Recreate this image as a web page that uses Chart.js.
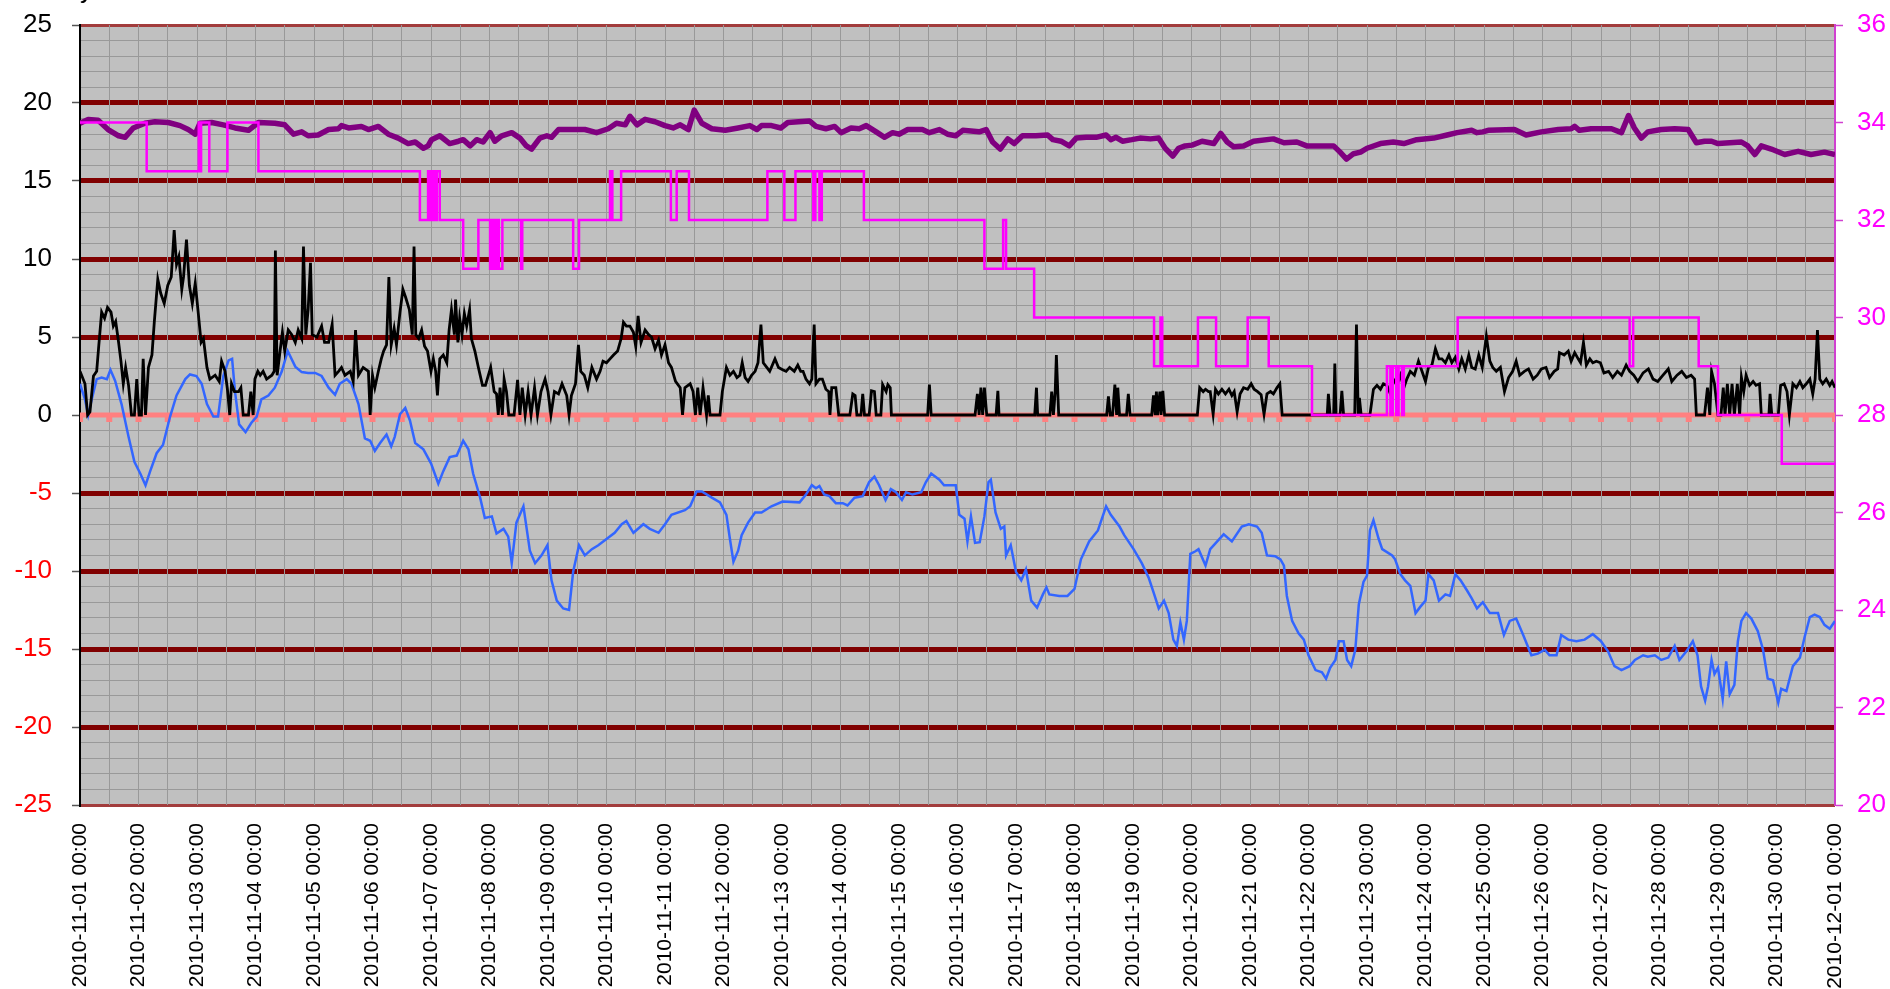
<!DOCTYPE html>
<html>
<head>
<meta charset="utf-8">
<title>Temperature log, November 2010</title>
<script src="https://cdn.jsdelivr.net/npm/chart.js@4.4.1/dist/chart.umd.min.js"></script>
<style>
  html, body { margin: 0; padding: 0; background: #ffffff; }
  canvas { display: block; }
</style>
</head>
<body>
<canvas id="chart" width="1890" height="989"></canvas>
<script>
// x values are days since 2010-11-01 00:00

const dayLabels = [
    "2010-11-01 00:00", "2010-11-02 00:00", "2010-11-03 00:00", "2010-11-04 00:00", "2010-11-05 00:00",
    "2010-11-06 00:00", "2010-11-07 00:00", "2010-11-08 00:00", "2010-11-09 00:00", "2010-11-10 00:00",
    "2010-11-11 00:00", "2010-11-12 00:00", "2010-11-13 00:00", "2010-11-14 00:00", "2010-11-15 00:00",
    "2010-11-16 00:00", "2010-11-17 00:00", "2010-11-18 00:00", "2010-11-19 00:00", "2010-11-20 00:00",
    "2010-11-21 00:00", "2010-11-22 00:00", "2010-11-23 00:00", "2010-11-24 00:00", "2010-11-25 00:00",
    "2010-11-26 00:00", "2010-11-27 00:00", "2010-11-28 00:00", "2010-11-29 00:00", "2010-11-30 00:00",
    "2010-12-01 00:00"
];

// blue line, left axis
const outsideTemp = [
    [0,2.0],[0.085,1.0],[0.14,0.0],[0.2,1.0],[0.285,2.3],[0.37,2.4],[0.46,2.3],[0.52,2.9],[0.6,2.2],[0.71,0.7],
    [0.83,-1.4],[0.93,-3.0],[1.03,-3.75],[1.12,-4.5],[1.2,-3.6],[1.31,-2.45],[1.42,-1.9],[1.54,-0.1],[1.65,1.25],
    [1.8,2.3],[1.88,2.6],[1.99,2.5],[2.08,2.0],[2.17,0.7],[2.28,-0.1],[2.36,-0.1],[2.45,2.5],[2.54,3.5],[2.6,3.6],
    [2.65,1.5],[2.72,-0.6],[2.83,-1.1],[2.93,-0.5],[3.02,-0.1],[3.1,1.0],[3.22,1.25],[3.33,1.75],[3.45,2.8],
    [3.55,4.1],[3.68,3.1],[3.79,2.75],[3.9,2.7],[4.02,2.7],[4.13,2.5],[4.25,1.75],[4.36,1.3],[4.44,2.0],[4.56,2.3],
    [4.64,2.0],[4.76,0.7],[4.87,-1.5],[4.96,-1.65],[5.04,-2.3],[5.13,-1.8],[5.24,-1.25],[5.32,-2.0],[5.38,-1.4],
    [5.47,0.05],[5.56,0.45],[5.64,-0.35],[5.73,-1.8],[5.87,-2.2],[6.0,-3.1],
    [6.125,-4.4],[6.21,-3.6],[6.32,-2.7],[6.44,-2.6],[6.55,-1.65],[6.64,-2.2],[6.72,-3.75],[6.84,-5.3],[6.92,-6.6],
    [7.04,-6.5],[7.12,-7.6],[7.24,-7.3],[7.32,-7.8],[7.38,-9.5],[7.46,-6.9],[7.58,-5.85],[7.69,-8.7],[7.78,-9.5],
    [7.89,-9.0],[7.99,-8.35],[8.06,-10.6],[8.15,-11.9],[8.26,-12.4],[8.36,-12.5],[8.43,-10.05],[8.53,-8.35],
    [8.63,-9.0],[8.75,-8.6],[8.86,-8.35],[9.0,-7.95],[9.14,-7.55],[9.26,-7.0],[9.34,-6.8],[9.46,-7.55],[9.63,-7.0],
    [9.74,-7.3],[9.89,-7.55],[10.0,-7.0],[10.11,-6.4],[10.34,-6.1],[10.43,-5.85],[10.54,-4.9],[10.63,-4.9],
    [10.8,-5.3],[10.94,-5.6],[11.05,-6.4],[11.11,-7.95],[11.17,-9.4],[11.25,-8.7],[11.31,-7.7],[11.42,-6.9],
    [11.54,-6.25],[11.65,-6.25],[11.82,-5.85],[12.01,-5.55],[12.3,-5.6],[12.41,-5.1],[12.51,-4.5],[12.58,-4.7],
    [12.64,-4.55],[12.72,-5.1],[12.81,-5.2],[12.92,-5.65],[13.04,-5.65],[13.12,-5.8],[13.24,-5.3],[13.38,-5.2],
    [13.49,-4.3],[13.58,-3.95],[13.66,-4.5],[13.77,-5.45],[13.86,-4.75],[13.95,-4.95],[14.05,-5.45],[14.12,-4.95],
    [14.23,-5.1],[14.38,-4.95],[14.46,-4.3],[14.55,-3.75],[14.69,-4.15],[14.77,-4.5],[14.97,-4.5],[15.03,-6.4],
    [15.12,-6.65],[15.17,-8.1],[15.23,-6.5],[15.3,-8.2],[15.38,-8.15],[15.46,-6.5],[15.53,-4.3],[15.57,-4.15],
    [15.65,-6.25],[15.74,-7.3],[15.8,-7.15],[15.83,-9.0],[15.91,-8.35],[16.0,-10.05],[16.09,-10.6],[16.17,-9.9],
    [16.26,-11.9],[16.36,-12.35],[16.46,-11.5],[16.52,-11.05],[16.57,-11.5],[16.74,-11.6],[16.88,-11.6],
    [17.0,-11.15],[17.11,-9.25],[17.25,-8.1],[17.4,-7.4],[17.54,-5.85],[17.62,-6.4],[17.77,-7.15],[17.85,-7.7],
    [18.01,-8.6],[18.15,-9.5],[18.27,-10.45],[18.35,-11.35],[18.44,-12.4],[18.53,-11.9],[18.61,-12.7],[18.69,-14.4],
    [18.75,-14.8],[18.81,-13.3],[18.87,-14.4],[18.92,-13.2],[18.98,-8.9],[19.06,-8.75],[19.12,-8.6],[19.24,-9.65],
    [19.32,-8.6],[19.44,-8.1],[19.55,-7.65],[19.69,-8.1],[19.86,-7.15],[19.98,-7.0],[20.12,-7.15],[20.2,-7.55],
    [20.29,-9.0],[20.43,-9.05],[20.52,-9.25],[20.58,-9.65],[20.63,-11.6],[20.72,-13.2],[20.83,-14.0],[20.92,-14.4],
    [21.0,-15.4],[21.12,-16.35],[21.23,-16.5],[21.3,-16.9],[21.37,-16.2],[21.46,-15.7],[21.52,-14.5],[21.6,-14.5],
    [21.66,-15.7],[21.73,-16.1],[21.8,-15.05],[21.86,-12.15],[21.94,-10.7],[22.0,-10.3],[22.05,-7.4],[22.11,-6.75],
    [22.2,-7.95],[22.26,-8.6],[22.43,-9.0],[22.48,-9.25],[22.57,-10.2],[22.65,-10.6],[22.74,-10.95],[22.83,-12.7],
    [22.91,-12.3],[23.0,-11.9],[23.05,-10.2],[23.14,-10.6],[23.23,-11.9],[23.34,-11.5],[23.42,-11.6],[23.51,-10.2],
    [23.6,-10.6],[23.71,-11.25],[23.79,-11.75],[23.88,-12.4],[23.98,-12.0],[24.1,-12.7],[24.24,-12.7],[24.34,-14.1],
    [24.44,-13.2],[24.55,-13.05],[24.67,-14.1],[24.81,-15.4],[24.92,-15.3],[25.04,-15.05],[25.12,-15.4],
    [25.24,-15.4],[25.32,-14.1],[25.44,-14.4],[25.58,-14.5],[25.72,-14.4],[25.86,-14.05],[26.0,-14.5],
    [26.12,-15.15],[26.23,-16.1],[26.35,-16.35],[26.49,-16.1],[26.58,-15.7],[26.72,-15.4],[26.8,-15.5],
    [26.92,-15.4],[27.03,-15.7],[27.15,-15.55],[27.26,-14.8],[27.34,-15.7],[27.46,-15.15],[27.57,-14.5],
    [27.65,-15.4],[27.71,-17.4],[27.78,-18.3],[27.83,-17.4],[27.89,-15.7],[27.94,-16.6],[28.0,-16.2],[28.08,-18.2],
    [28.14,-15.8],[28.2,-17.9],[28.28,-17.3],[28.34,-14.5],[28.4,-13.2],[28.48,-12.7],[28.57,-13.05],[28.68,-13.85],
    [28.77,-15.05],[28.85,-16.9],[28.94,-17.0],[29.03,-18.45],[29.08,-17.55],[29.17,-17.7],[29.28,-16.1],
    [29.4,-15.55],[29.48,-14.25],[29.57,-12.95],[29.65,-12.8],[29.74,-12.95],[29.82,-13.45],[29.91,-13.7],[30.0,-13.2]
];

// black line, left axis
const supplyTemp = [
    [0,2.8],[0.085,2.0],[0.13,0],[0.17,0.2],[0.23,2.5],[0.285,2.8],[0.32,4.4],[0.37,6.6],[0.42,6.2],[0.47,6.9],
    [0.53,6.6],[0.57,5.7],[0.61,6.0],[0.66,4.65],[0.7,3.45],[0.74,2.0],[0.78,3.05],[0.83,1.9],[0.88,0],[0.93,0],
    [0.97,2.3],[1.01,0],[1.05,0],[1.08,3.6],[1.12,0],[1.17,3.05],[1.23,3.85],[1.27,5.95],[1.33,8.7],[1.38,7.8],
    [1.44,7.15],[1.5,8.3],[1.56,8.85],[1.61,11.85],[1.65,9.65],[1.69,10.15],[1.74,8.05],[1.77,8.85],[1.82,11.25],
    [1.87,8.3],[1.92,7.15],[1.97,8.45],[2.02,6.6],[2.07,4.65],[2.11,4.9],[2.17,3.05],[2.22,2.3],[2.31,2.55],
    [2.38,2.15],[2.42,3.45],[2.48,2.8],[2.52,1.65],[2.56,0],[2.59,2.0],[2.64,1.5],[2.71,1.5],[2.75,1.75],[2.79,0],
    [2.88,0],[2.92,1.5],[2.96,0],[2.99,2.3],[3.04,2.8],[3.08,2.55],[3.13,2.8],[3.19,2.3],[3.28,2.55],[3.32,2.8],
    [3.34,10.55],[3.37,2.55],[3.42,4.1],[3.46,5.3],[3.5,4.1],[3.56,5.45],[3.62,5.15],[3.68,4.65],[3.73,5.45],
    [3.79,4.9],[3.82,10.8],[3.86,5.15],[3.9,6.75],[3.94,9.75],[3.97,5.15],[4.05,5.0],[4.13,5.7],[4.18,4.65],
    [4.25,4.65],[4.31,5.8],[4.36,2.55],[4.42,2.8],[4.47,3.05],[4.53,2.55],[4.62,2.8],[4.67,2.15],[4.71,5.45],
    [4.76,2.55],[4.84,3.05],[4.93,2.8],[4.96,0],[5.0,2.55],[5.04,1.75],[5.1,2.8],[5.15,3.6],[5.19,4.1],[5.24,4.5],
    [5.28,8.85],[5.32,4.5],[5.37,5.55],[5.41,4.5],[5.47,6.6],[5.52,8.05],[5.57,7.5],[5.63,6.75],[5.68,5.15],
    [5.71,10.8],[5.74,5.15],[5.79,4.9],[5.84,5.45],[5.89,4.4],[5.94,4.1],[6.0,2.8],[6.04,3.6],[6.08,2.8],
    [6.11,1.25],[6.15,3.6],[6.21,3.85],[6.27,3.35],[6.31,5.45],[6.35,6.75],[6.4,5.15],[6.42,7.4],[6.46,4.65],
    [6.49,6.2],[6.53,5.15],[6.57,6.5],[6.61,5.7],[6.66,6.75],[6.69,4.9],[6.75,4.1],[6.81,3.05],[6.88,1.9],
    [6.93,1.9],[7.02,3.05],[7.08,1.5],[7.12,1.35],[7.15,0],[7.18,1.75],[7.22,0],[7.25,2.3],[7.29,1.5],[7.33,0],
    [7.42,0],[7.48,2.25],[7.52,0],[7.56,1.75],[7.61,0],[7.66,1.5],[7.71,0],[7.77,1.75],[7.82,0],[7.88,1.5],
    [7.95,2.3],[8.0,1.5],[8.05,0],[8.11,1.5],[8.18,1.35],[8.24,2.0],[8.32,1.25],[8.36,0],[8.4,1.25],[8.47,2.0],
    [8.52,4.5],[8.56,2.8],[8.62,2.55],[8.68,1.75],[8.75,3.05],[8.83,2.3],[8.89,2.8],[8.94,3.45],[9.0,3.35],
    [9.06,3.6],[9.12,3.85],[9.19,4.1],[9.25,4.9],[9.29,5.95],[9.34,5.7],[9.4,5.7],[9.46,5.3],[9.5,4.4],[9.54,6.35],
    [9.59,4.65],[9.66,5.45],[9.72,5.15],[9.77,5.0],[9.83,4.25],[9.89,4.8],[9.94,3.85],[10.0,4.5],[10.06,3.35],
    [10.11,3.05],[10.18,2.15],[10.26,1.75],[10.3,0],[10.34,1.75],[10.43,2.0],[10.48,1.5],[10.52,0],[10.56,1.75],
    [10.6,0],[10.65,1.75],[10.71,0],[10.74,1.25],[10.77,0],[10.94,0],[10.98,1.5],[11.05,3.05],[11.11,2.55],
    [11.17,2.8],[11.23,2.4],[11.28,2.55],[11.32,3.35],[11.37,2.4],[11.42,2.15],[11.48,2.55],[11.54,2.8],
    [11.59,3.35],[11.64,5.8],[11.68,3.35],[11.74,3.05],[11.79,2.8],[11.88,3.6],[11.94,3.05],[12.01,2.9],
    [12.07,2.8],[12.13,3.05],[12.21,2.8],[12.27,3.2],[12.32,2.8],[12.36,2.8],[12.41,2.3],[12.47,2.0],[12.51,2.3],
    [12.55,5.8],[12.58,2.0],[12.64,2.3],[12.69,2.3],[12.75,1.65],[12.8,1.5],[12.82,0],[12.85,1.75],[12.92,1.75],
    [12.97,0],[13.16,0],[13.21,1.35],[13.25,1.25],[13.28,0],[13.35,0],[13.38,1.35],[13.41,0],[13.49,0],
    [13.53,1.55],[13.58,1.5],[13.61,0],[13.69,0],[13.72,1.95],[13.78,1.5],[13.81,1.95],[13.85,1.75],[13.87,0],
    [14.49,0],[14.52,1.95],[14.55,0],[15.3,0],[15.34,1.35],[15.37,0],[15.4,1.75],[15.43,0],[15.46,1.75],[15.5,0],
    [15.66,0],[15.69,1.55],[15.71,0],[16.32,0],[16.35,1.75],[16.37,0],[16.58,0],[16.61,1.5],[16.64,0],[16.67,1.5],
    [16.69,3.85],[16.73,0],[17.55,0],[17.58,1.2],[17.61,0],[17.65,0],[17.69,1.95],[17.72,0],[17.74,1.75],
    [17.77,0],[17.89,0],[17.92,1.35],[17.95,0],[18.32,0],[18.35,1.25],[18.38,0],[18.4,1.5],[18.42,0],[18.46,1.5],
    [18.48,0],[18.51,1.55],[18.54,0],[19.1,0],[19.14,1.75],[19.2,1.5],[19.24,1.65],[19.29,1.5],[19.32,1.5],
    [19.37,0.05],[19.41,1.65],[19.46,1.35],[19.52,1.65],[19.58,1.35],[19.64,1.65],[19.69,1.25],[19.73,1.5],
    [19.78,0.2],[19.83,1.35],[19.89,1.75],[19.96,1.65],[20.02,2.0],[20.07,1.65],[20.13,1.5],[20.19,1.3],
    [20.24,0.05],[20.29,1.35],[20.35,1.5],[20.4,1.35],[20.46,1.75],[20.51,2.0],[20.55,0],[21.32,0],[21.34,1.35],
    [21.37,0],[21.43,0],[21.45,3.3],[21.47,0],[21.54,0],[21.57,1.55],[21.6,0],[21.79,0],[21.82,5.8],[21.85,0],
    [21.87,1.1],[21.9,0],[22.05,0],[22.09,1.1],[22.11,1.65],[22.17,1.9],[22.23,1.65],[22.28,2.0],[22.34,1.9],
    [22.4,1.35],[22.45,2.3],[22.51,1.9],[22.57,2.55],[22.63,1.75],[22.68,2.3],[22.74,2.8],[22.81,2.55],
    [22.88,3.45],[22.94,2.8],[23.0,2.15],[23.05,3.05],[23.11,3.2],[23.17,4.25],[23.23,3.6],[23.28,3.6],
    [23.34,3.35],[23.4,3.85],[23.45,3.35],[23.51,3.7],[23.57,2.95],[23.62,3.6],[23.68,2.95],[23.74,3.85],
    [23.79,3.05],[23.85,2.95],[23.91,3.85],[23.97,3.05],[24.04,5.05],[24.1,3.45],[24.15,3.05],[24.21,2.8],
    [24.28,3.05],[24.35,1.5],[24.42,2.4],[24.49,2.8],[24.55,3.45],[24.61,2.55],[24.69,2.8],[24.76,2.95],
    [24.84,2.3],[24.91,2.55],[24.98,2.95],[25.06,3.05],[25.12,2.4],[25.2,2.8],[25.26,2.95],[25.29,4.0],
    [25.37,3.85],[25.44,4.1],[25.49,3.45],[25.55,4.0],[25.61,3.6],[25.65,3.35],[25.7,4.65],[25.75,3.2],
    [25.81,3.6],[25.86,3.35],[25.92,3.45],[25.99,3.35],[26.05,2.7],[26.13,2.8],[26.2,2.4],[26.28,2.8],
    [26.35,2.55],[26.43,3.2],[26.49,2.8],[26.56,2.55],[26.63,2.15],[26.72,2.7],[26.81,2.95],[26.89,2.3],
    [26.97,2.15],[27.06,2.55],[27.15,2.95],[27.21,2.15],[27.3,2.55],[27.38,2.8],[27.46,2.4],[27.54,2.55],
    [27.6,2.3],[27.63,0],[27.77,0],[27.82,1.75],[27.86,0],[27.89,2.8],[27.94,2.0],[28.0,0],[28.05,0],[28.09,1.75],
    [28.12,0],[28.16,2.0],[28.2,0],[28.24,2.0],[28.28,0],[28.33,2.0],[28.37,0],[28.4,2.4],[28.44,1.5],[28.48,2.55],
    [28.54,1.9],[28.6,2.15],[28.65,1.9],[28.71,2.0],[28.74,0],[28.87,0],[28.89,1.35],[28.92,0],[29.03,0],
    [29.07,1.9],[29.13,2.0],[29.18,1.5],[29.22,0],[29.28,2.0],[29.34,1.75],[29.4,2.15],[29.45,1.75],[29.51,2.0],
    [29.57,2.3],[29.62,1.35],[29.66,2.3],[29.7,5.45],[29.74,2.3],[29.79,2.0],[29.85,2.3],[29.91,1.9],[29.95,2.15],
    [30.0,1.75]
];

// thick purple line, left axis
const roomTemp = [
    [0,18.7],[0.14,18.95],[0.31,18.9],[0.48,18.3],[0.66,17.9],[0.77,17.8],[0.91,18.4],[1.11,18.7],[1.28,18.8],
    [1.51,18.75],[1.71,18.55],[1.85,18.3],[1.97,18.0],[2.05,18.7],[2.25,18.75],[2.45,18.6],[2.65,18.4],
    [2.88,18.25],[3.05,18.75],[3.33,18.7],[3.5,18.6],[3.65,18.0],[3.79,18.15],[3.9,17.9],[4.07,17.95],[4.25,18.3],
    [4.42,18.35],[4.47,18.55],[4.59,18.4],[4.81,18.5],[4.93,18.3],[5.1,18.5],[5.27,18.0],[5.44,17.75],[5.61,17.4],
    [5.73,17.5],[5.87,17.1],[5.95,17.25],[6.01,17.65],[6.15,17.9],[6.32,17.4],[6.47,17.55],[6.55,17.65],
    [6.67,17.25],[6.78,17.65],[6.89,17.5],[7.01,18.1],[7.09,17.55],[7.21,17.9],[7.38,18.1],[7.52,17.75],
    [7.63,17.25],[7.72,17.05],[7.86,17.75],[7.98,17.9],[8.06,17.8],[8.18,18.3],[8.4,18.3],[8.63,18.3],[8.83,18.1],
    [9.03,18.35],[9.17,18.7],[9.32,18.6],[9.4,19.15],[9.52,18.6],[9.66,18.95],[9.83,18.8],[10.0,18.55],
    [10.14,18.4],[10.26,18.6],[10.4,18.3],[10.5,19.55],[10.63,18.7],[10.8,18.35],[11.03,18.25],[11.25,18.4],
    [11.45,18.55],[11.57,18.3],[11.65,18.55],[11.82,18.55],[11.98,18.4],[12.1,18.75],[12.47,18.85],[12.58,18.5],
    [12.75,18.35],[12.9,18.5],[13.01,18.1],[13.18,18.4],[13.32,18.35],[13.44,18.55],[13.61,18.15],[13.75,17.8],
    [13.89,18.1],[14.0,18.0],[14.15,18.3],[14.4,18.3],[14.52,18.1],[14.69,18.3],[14.83,18.0],[14.97,17.9],
    [15.09,18.25],[15.37,18.15],[15.49,18.3],[15.6,17.5],[15.73,17.05],[15.86,17.7],[15.97,17.4],[16.11,17.9],
    [16.34,17.9],[16.54,17.95],[16.63,17.65],[16.77,17.55],[16.91,17.25],[17.03,17.75],[17.2,17.8],[17.37,17.8],
    [17.54,17.95],[17.62,17.65],[17.71,17.8],[17.82,17.55],[17.98,17.65],[18.12,17.75],[18.3,17.7],[18.44,17.75],
    [18.55,17.1],[18.68,16.6],[18.78,17.1],[18.89,17.25],[19.01,17.3],[19.18,17.55],[19.38,17.4],[19.5,18.05],
    [19.61,17.5],[19.72,17.2],[19.89,17.25],[20.06,17.55],[20.4,17.7],[20.58,17.45],[20.8,17.5],[20.97,17.25],
    [21.2,17.25],[21.43,17.25],[21.54,16.85],[21.65,16.4],[21.77,16.75],[21.89,16.85],[22.0,17.1],[22.23,17.4],
    [22.45,17.5],[22.63,17.4],[22.85,17.65],[23.14,17.75],[23.37,17.95],[23.54,18.1],[23.79,18.25],[23.88,18.1],
    [23.98,18.15],[24.07,18.25],[24.52,18.3],[24.72,17.95],[24.98,18.15],[25.27,18.3],[25.49,18.35],[25.55,18.5],
    [25.63,18.25],[25.83,18.35],[26.18,18.35],[26.35,18.1],[26.47,19.2],[26.57,18.4],[26.69,17.75],[26.8,18.15],
    [27.03,18.3],[27.26,18.35],[27.49,18.3],[27.63,17.45],[27.77,17.55],[27.89,17.55],[28.0,17.4],[28.4,17.5],
    [28.51,17.25],[28.63,16.7],[28.74,17.25],[28.91,17.05],[29.14,16.7],[29.37,16.9],[29.59,16.7],[29.82,16.85],
    [30.0,16.7]
];

// magenta step line, right axis; each value holds from its day onward
const setpoint = [
    [0,34],[1.14,33],[2.03,34],[2.05,33],[2.07,34],[2.21,33],[2.52,34],[3.05,33],[5.81,32],[5.95,33],[5.98,32],
    [6.02,33],[6.06,32],[6.1,33],[6.15,32],[6.55,31],[6.81,32],[7.01,31],[7.04,32],[7.08,31],[7.12,32],[7.16,31],
    [7.22,32],[7.54,31],[7.56,32],[8.43,31],[8.53,32],[9.06,33],[9.1,32],[9.25,33],[10.1,32],[10.2,33],[10.41,32],
    [11.75,33],[12.04,32],[12.23,33],[12.535,32],[12.57,33],[12.64,32],[12.68,33],[13.4,32],[15.46,31],[15.78,32],
    [15.83,31],[16.31,30],[18.36,29],[18.47,30],[18.5,29],[19.11,30],[19.42,29],[19.96,30],[20.32,29],[21.06,28],
    [22.34,29],[22.4,28],[22.44,29],[22.5,28],[22.54,29],[22.6,28],[22.63,29],[23.55,30],[26.49,29],[26.55,30],
    [27.67,29],[28.0,28],[29.09,27],[30,27]
];

// pink reference line at 0 with a marker every 12 hours
const baseDays = [
    0, 0.5, 1, 1.5, 2, 2.5, 3, 3.5, 4, 4.5, 5, 5.5, 6, 6.5, 7, 7.5, 8, 8.5, 9, 9.5, 10, 10.5, 11, 11.5, 12, 12.5,
    13, 13.5, 14, 14.5, 15, 15.5, 16, 16.5, 17, 17.5, 18, 18.5, 19, 19.5, 20, 20.5, 21, 21.5, 22, 22.5, 23, 23.5,
    24, 24.5, 25, 25.5, 26, 26.5, 27, 27.5, 28, 28.5, 29, 29.5, 30
];
const baseLevel = 0;

const FONT = "'Liberation Sans', Arial, sans-serif";

const toPoints = (rows) => rows.map(([x, y]) => ({ x, y }));

// little marker that hangs below the pink line
function makeMarker() {
    const c = document.createElement("canvas");
    c.width = 8;
    c.height = 18;
    const g = c.getContext("2d");
    g.fillStyle = "#ff8080";
    g.fillRect(1, 8, 6, 8);
    return c;
}

const plotBackground = {
    id: "plotBackground",
    beforeDraw(chart) {
        const { ctx, chartArea: a } = chart;
        ctx.save();
        ctx.fillStyle = "#c0c0c0";
        ctx.fillRect(a.left, a.top, a.right - a.left, a.bottom - a.top);
        ctx.restore();
    },
    afterDraw(chart) {
        // clipped title at the very top, only its descender shows
        const ctx = chart.ctx;
        ctx.save();
        ctx.font = "26px " + FONT;
        ctx.fillStyle = "#000";
        ctx.textBaseline = "alphabetic";
        ctx.fillText("y", 80, -2);
        ctx.restore();
    },
};

const isMajor = (v) => Math.round(v) % 5 === 0;

// fixed box sizes so the plot area lands at 80..1835 x 25..805
function fixVertical(width) {
    return (s) => {
        s.width = width;
        s.paddingTop = 0;
        s.paddingBottom = 0;
    };
}

new Chart(document.getElementById("chart"), {
    type: "line",
    data: {
        datasets: [
            {
                data: toPoints(setpoint), yAxisID: "y2", stepped: "before",
                borderColor: "#ff00ff", borderWidth: 2.5, pointRadius: 0,
            },
            {
                data: toPoints(supplyTemp), yAxisID: "y",
                borderColor: "#000000", borderWidth: 2.8, pointRadius: 0,
            },
            {
                data: toPoints(outsideTemp), yAxisID: "y",
                borderColor: "#3366ff", borderWidth: 2.5, pointRadius: 0,
            },
            {
                data: toPoints(roomTemp), yAxisID: "y",
                borderColor: "#800080", borderWidth: 5.5, pointRadius: 0, borderJoinStyle: "round",
            },
            {
                data: baseDays.map((d) => ({ x: d, y: baseLevel })), yAxisID: "y",
                borderColor: "#ff8080", borderWidth: 5,
                pointStyle: makeMarker(), pointRadius: 4,
            },
        ],
    },
    options: {
        responsive: false,
        animation: false,
        events: [],
        layout: { padding: { top: 25, left: 0, right: 0, bottom: 0 } },
        plugins: { legend: { display: false }, tooltip: { enabled: false } },
        elements: { line: { tension: 0 } },
        scales: {
            x: {
                type: "linear", min: 0, max: 30,
                afterFit: (s) => {
                    s.height = 184;
                    s.paddingLeft = 0;
                    s.paddingRight = 0;
                },
                ticks: {
                    stepSize: 0.5, autoSkip: false, minRotation: 90, maxRotation: 90,
                    padding: 18, color: "#000", font: { family: FONT, size: 21 },
                    callback: (v) => (Number.isInteger(v) ? dayLabels[v] : ""),
                },
                grid: { color: "#999999", lineWidth: 1, drawTicks: false, z: -1 },
                border: { display: false },
            },
            y: {
                type: "linear", position: "left", min: -25, max: 25,
                afterFit: fixVertical(80),
                ticks: {
                    stepSize: 1, autoSkip: false, padding: 20,
                    font: { family: FONT, size: 26 },
                    color: (ctx) => (ctx.tick && ctx.tick.value < 0 ? "#ff0000" : "#000000"),
                    callback: (v) => (isMajor(v) ? String(v) : ""),
                },
                grid: {
                    z: -2,
                    color: (ctx) => {
                        const v = ctx.tick.value;
                        if (Math.abs(v) === 25) return "#a23c3c";
                        if (v !== 0 && isMajor(v)) return "#800000";
                        return "#999999";
                    },
                    lineWidth: (ctx) => {
                        const v = ctx.tick.value;
                        if (Math.abs(v) === 25) return 3;
                        if (v !== 0 && isMajor(v)) return 5;
                        return 1;
                    },
                    tickColor: (ctx) => (isMajor(ctx.tick.value) ? "#555555" : "rgba(0,0,0,0)"),
                    tickWidth: 1.5,
                    tickLength: 8,
                },
                border: { color: "#000000", width: 2 },
            },
            y2: {
                type: "linear", position: "right", min: 20, max: 36,
                afterFit: fixVertical(55),
                ticks: {
                    stepSize: 2, padding: 14, color: "#ff00ff",
                    font: { family: FONT, size: 26 },
                },
                grid: { drawOnChartArea: false, tickColor: "#d040d0", tickWidth: 1.5, tickLength: 8 },
                border: { color: "#d040d0", width: 2 },
            },
        },
    },
    plugins: [plotBackground],
});
</script>
</body>
</html>
